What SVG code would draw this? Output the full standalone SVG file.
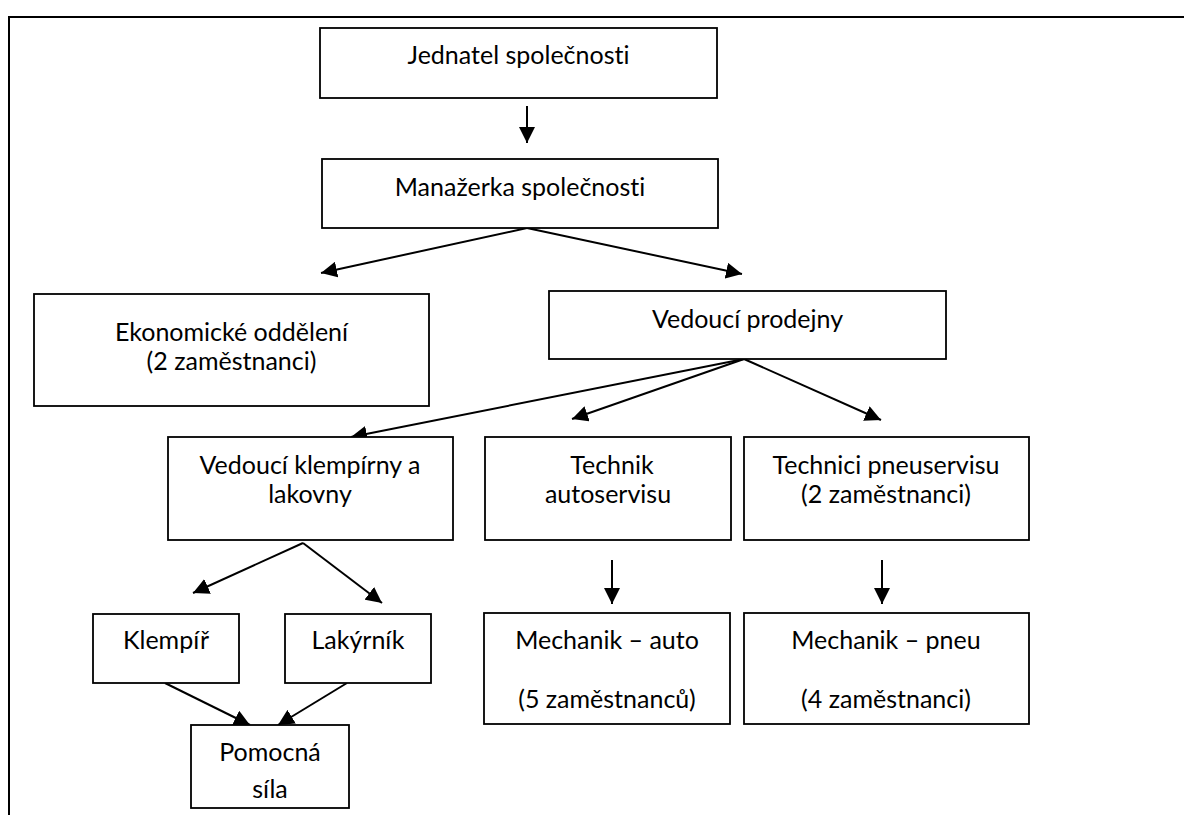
<svg xmlns="http://www.w3.org/2000/svg" width="1184" height="815" viewBox="0 0 1184 815">
<style>
.box{fill:#fff;stroke:#000;stroke-width:1.8}
.t{font-family:Lato,"Open Sans","Liberation Sans",sans-serif;font-size:25px;fill:#000;text-anchor:middle;font-variant-ligatures:none;font-feature-settings:"liga" 0,"clig" 0,"dlig" 0}
.c{stroke:#000;stroke-width:2;fill:none;marker-end:url(#ah)}
</style>
<defs>
<marker id="ah" markerUnits="userSpaceOnUse" markerWidth="17" markerHeight="16" refX="16" refY="8" orient="auto">
<path d="M0,0 L16,8 L0,16 z" fill="#000"/>
</marker>
</defs>
<rect width="1184" height="815" fill="#fff"/>
<path d="M9,815 L9,17 L1184,17" fill="none" stroke="#000" stroke-width="2"/>
<g id="connectors">
<line class="c" x1="527" y1="106" x2="527" y2="143"/>
<line class="c" x1="527" y1="228" x2="321" y2="273"/>
<line class="c" x1="527" y1="228" x2="742" y2="274"/>
<line class="c" x1="744" y1="359" x2="351" y2="437"/>
<line class="c" x1="744" y1="359" x2="572" y2="419"/>
<line class="c" x1="744" y1="359" x2="881" y2="420"/>
<line class="c" x1="303" y1="543" x2="193" y2="593"/>
<line class="c" x1="303" y1="543" x2="382" y2="603"/>
<line class="c" x1="612" y1="560" x2="612" y2="604"/>
<line class="c" x1="882" y1="560" x2="882" y2="604"/>
<line class="c" x1="165" y1="683" x2="250" y2="725"/>
<line class="c" x1="347" y1="683" x2="278" y2="725"/>
</g>
<g id="jednatel">
<rect class="box" x="320" y="28" width="397" height="70"/>
<text class="t" x="518.5" y="64">Jednatel společnosti</text>
</g>
<g id="manazerka">
<rect class="box" x="322" y="159" width="396" height="69"/>
<text class="t" x="520" y="196">Manažerka společnosti</text>
</g>
<g id="ekonomicke">
<rect class="box" x="34" y="294" width="395" height="112"/>
<text class="t" x="231.5" y="341">Ekonomické oddělení</text>
<text class="t" x="231.5" y="370">(2 zaměstnanci)</text>
</g>
<g id="vedouci-prodejny">
<rect class="box" x="549" y="291" width="397" height="68"/>
<text class="t" x="747.5" y="328">Vedoucí prodejny</text>
</g>
<g id="vedouci-klempirny">
<rect class="box" x="168" y="437" width="285" height="103"/>
<text class="t" x="310" y="474">Vedoucí klempírny a</text>
<text class="t" x="310" y="503">lakovny</text>
</g>
<g id="technik-autoservisu">
<rect class="box" x="485" y="437" width="246" height="103"/>
<text class="t" x="612" y="474">Technik</text>
<text class="t" x="608" y="503">autoservisu</text>
</g>
<g id="technici-pneuservisu">
<rect class="box" x="744" y="437" width="285" height="103"/>
<text class="t" x="886" y="474">Technici pneuservisu</text>
<text class="t" x="886" y="503">(2 zaměstnanci)</text>
</g>
<g id="klempir">
<rect class="box" x="93" y="614" width="146" height="69"/>
<text class="t" x="166" y="649">Klempíř</text>
</g>
<g id="lakyrnik">
<rect class="box" x="285" y="614" width="146" height="69"/>
<text class="t" x="358" y="649">Lakýrník</text>
</g>
<g id="mechanik-auto">
<rect class="box" x="484" y="613" width="246" height="111"/>
<text class="t" x="607" y="649">Mechanik – auto</text>
<text class="t" x="607" y="708">(5 zaměstnanců)</text>
</g>
<g id="mechanik-pneu">
<rect class="box" x="744" y="613" width="285" height="111"/>
<text class="t" x="886" y="649">Mechanik – pneu</text>
<text class="t" x="886" y="708">(4 zaměstnanci)</text>
</g>
<g id="pomocna-sila">
<rect class="box" x="191" y="725" width="158" height="83"/>
<text class="t" x="270" y="761">Pomocná</text>
<text class="t" x="270" y="798">síla</text>
</g>
</svg>
